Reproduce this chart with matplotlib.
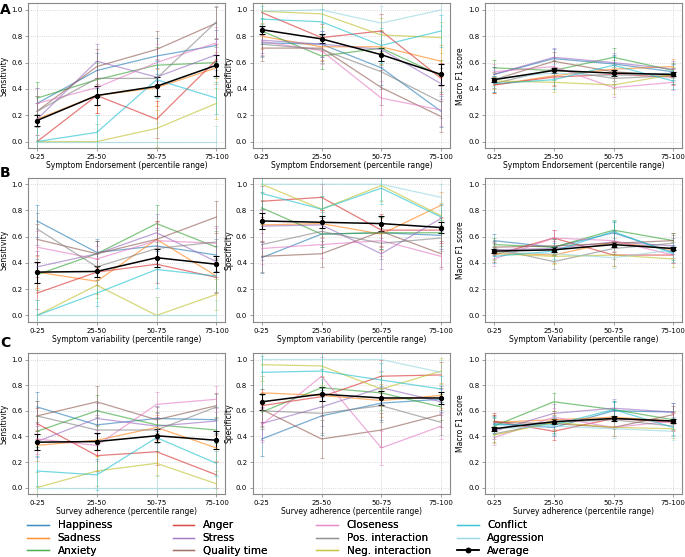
import numpy as np
import matplotlib.pyplot as plt
from matplotlib.lines import Line2D

# categories in legend order
labels = ['Happiness', 'Sadness', 'Anxiety', 'Anger', 'Stress', 'Quality time',
          'Closeness', 'Pos. interaction', 'Neg. interaction', 'Conflict', 'Aggression']
colors = ['tab:blue', 'tab:orange', 'tab:green', 'tab:red', 'tab:purple', 'tab:brown',
          'tab:pink', 'tab:gray', 'tab:olive', 'tab:cyan', '#8fd3de']
bins = ['0-25', '25-50', '50-75', '75-100']

# ---- row A: symptom endorsement ----
A_sens = [[0.29, 0.54, 0.65, 0.73], [0.17, 0.35, 0.41, 0.56], [0.33, 0.47, 0.58, 0.60],
          [0.00, 0.35, 0.17, 0.62], [0.17, 0.61, 0.49, 0.66], [0.23, 0.57, 0.70, 0.90],
          [0.29, 0.41, 0.60, 0.75], [0.23, 0.48, 0.48, 0.91], [0.00, 0.00, 0.10, 0.29],
          [0.00, 0.07, 0.47, 0.33], [0.00, 0.00, 0.00, 0.00]]
A_sens_avg = [0.16, 0.35, 0.42, 0.58]
A_sens_avg_err = [0.04, 0.07, 0.07, 0.08]
A_sens_err = [0.12, 0.13, 0.14, 0.12]

A_spec = [[0.75, 0.74, 0.56, 0.23], [0.80, 0.72, 0.72, 0.61], [0.84, 0.65, 0.71, 0.50],
          [0.98, 0.79, 0.84, 0.48], [0.77, 0.74, 0.70, 0.44], [0.71, 0.71, 0.41, 0.19],
          [0.76, 0.69, 0.33, 0.24], [0.74, 0.70, 0.53, 0.30], [0.99, 0.97, 0.81, 0.79],
          [0.93, 0.91, 0.73, 0.84], [0.99, 1.00, 0.90, 1.00]]
A_spec_avg = [0.85, 0.78, 0.66, 0.51]
A_spec_avg_err = [0.03, 0.035, 0.05, 0.08]
A_spec_err = [0.1, 0.1, 0.13, 0.12]

A_f1 = [[0.51, 0.63, 0.59, 0.53], [0.43, 0.50, 0.55, 0.57], [0.56, 0.54, 0.64, 0.54],
        [0.43, 0.49, 0.51, 0.49], [0.51, 0.64, 0.60, 0.55], [0.47, 0.61, 0.53, 0.50],
        [0.53, 0.57, 0.41, 0.45], [0.44, 0.55, 0.48, 0.50], [0.46, 0.45, 0.43, 0.51],
        [0.44, 0.47, 0.58, 0.46], [0.48, 0.52, 0.50, 0.52]]
A_f1_avg = [0.47, 0.54, 0.52, 0.51]
A_f1_avg_err = [0.015, 0.02, 0.02, 0.015]
A_f1_err = [0.06, 0.07, 0.07, 0.06]

# ---- row B: symptom variability ----
B_sens = [[0.72, 0.48, 0.53, 0.46], [0.33, 0.26, 0.58, 0.30], [0.31, 0.47, 0.70, 0.52],
          [0.17, 0.33, 0.39, 0.29], [0.37, 0.47, 0.63, 0.41], [0.58, 0.47, 0.58, 0.75],
          [0.52, 0.43, 0.57, 0.55], [0.66, 0.37, 0.51, 0.56], [0.00, 0.23, 0.00, 0.16],
          [0.00, 0.17, 0.35, 0.30], [0.00, 0.00, 0.00, 0.00]]
B_sens_avg = [0.33, 0.335, 0.44, 0.39]
B_sens_avg_err = [0.08, 0.045, 0.07, 0.06]
B_sens_err = [0.12, 0.1, 0.14, 0.12]

B_spec = [[0.44, 0.62, 0.63, 0.61], [0.69, 0.70, 0.62, 0.84], [0.82, 0.62, 0.63, 0.63],
          [0.87, 0.90, 0.65, 0.65], [0.68, 0.69, 0.47, 0.74], [0.45, 0.47, 0.64, 0.47],
          [0.51, 0.54, 0.57, 0.45], [0.54, 0.64, 0.55, 0.59], [1.00, 0.81, 0.99, 0.76],
          [0.93, 0.81, 0.97, 0.75], [1.00, 1.00, 1.00, 0.90]]
B_spec_avg = [0.72, 0.71, 0.70, 0.67]
B_spec_avg_err = [0.06, 0.045, 0.055, 0.04]
B_spec_err = [0.12, 0.1, 0.12, 0.1]

B_f1 = [[0.57, 0.52, 0.63, 0.48], [0.48, 0.46, 0.56, 0.50], [0.54, 0.52, 0.65, 0.57],
        [0.46, 0.59, 0.46, 0.46], [0.50, 0.51, 0.56, 0.53], [0.52, 0.53, 0.55, 0.57],
        [0.43, 0.59, 0.57, 0.46], [0.51, 0.41, 0.51, 0.55], [0.47, 0.45, 0.46, 0.43],
        [0.45, 0.49, 0.64, 0.47], [0.48, 0.47, 0.44, 0.50]]
B_f1_avg = [0.49, 0.50, 0.54, 0.51]
B_f1_avg_err = [0.015, 0.02, 0.02, 0.015]
B_f1_err = [0.05, 0.06, 0.08, 0.06]

# ---- row C: survey adherence ----
C_sens = [[0.63, 0.49, 0.54, 0.53], [0.33, 0.37, 0.47, 0.31], [0.44, 0.60, 0.49, 0.45],
          [0.50, 0.25, 0.28, 0.10], [0.36, 0.54, 0.48, 0.52], [0.56, 0.67, 0.53, 0.64],
          [0.38, 0.33, 0.65, 0.69], [0.56, 0.45, 0.45, 0.63], [0.00, 0.13, 0.19, 0.03],
          [0.13, 0.10, 0.39, 0.19], [0.00, 0.00, 0.00, 0.00]]
C_sens_avg = [0.355, 0.36, 0.405, 0.37]
C_sens_avg_err = [0.06, 0.065, 0.05, 0.07]
C_sens_err = [0.12, 0.12, 0.1, 0.1]

C_spec = [[0.38, 0.56, 0.66, 0.69], [0.74, 0.72, 0.68, 0.72], [0.59, 0.78, 0.74, 0.63],
          [0.64, 0.71, 0.87, 0.88], [0.50, 0.63, 0.78, 0.67], [0.61, 0.38, 0.45, 0.57],
          [0.49, 0.87, 0.31, 0.48], [0.60, 0.58, 0.64, 0.51], [0.96, 0.95, 0.77, 0.91],
          [0.90, 0.91, 0.84, 0.77], [1.00, 1.00, 1.00, 0.90]]
C_spec_avg = [0.67, 0.73, 0.70, 0.70]
C_spec_avg_err = [0.06, 0.055, 0.055, 0.045]
C_spec_err = [0.13, 0.15, 0.13, 0.1]

C_f1 = [[0.50, 0.47, 0.60, 0.59], [0.51, 0.53, 0.55, 0.52], [0.48, 0.67, 0.61, 0.53],
        [0.52, 0.44, 0.54, 0.51], [0.44, 0.58, 0.62, 0.59], [0.51, 0.50, 0.47, 0.57],
        [0.39, 0.55, 0.47, 0.52], [0.42, 0.51, 0.53, 0.48], [0.41, 0.51, 0.47, 0.46],
        [0.49, 0.49, 0.61, 0.47], [0.46, 0.48, 0.46, 0.44]]
C_f1_avg = [0.46, 0.515, 0.54, 0.52]
C_f1_avg_err = [0.015, 0.02, 0.02, 0.015]
C_f1_err = [0.06, 0.07, 0.07, 0.07]

xlabels = [['Symptom Endorsement (percentile range)'] * 3,
           ['Symptom variability (percentile range)', 'Symptom variability (percentile range)',
            'Symptom Variability (percentile range)'],
           ['Survey adherence (percentile range)'] * 3]
ylabels = ['Sensitivity', 'Specificity', 'Macro F1 score']

panels = [
    [(A_sens, A_sens_err, A_sens_avg, A_sens_avg_err), (A_spec, A_spec_err, A_spec_avg, A_spec_avg_err),
     (A_f1, A_f1_err, A_f1_avg, A_f1_avg_err)],
    [(B_sens, B_sens_err, B_sens_avg, B_sens_avg_err), (B_spec, B_spec_err, B_spec_avg, B_spec_avg_err),
     (B_f1, B_f1_err, B_f1_avg, B_f1_avg_err)],
    [(C_sens, C_sens_err, C_sens_avg, C_sens_avg_err), (C_spec, C_spec_err, C_spec_avg, C_spec_avg_err),
     (C_f1, C_f1_err, C_f1_avg, C_f1_avg_err)],
]

fig = plt.figure(figsize=(6.85, 5.57), dpi=100)

col_left = [0.041, 0.369, 0.708]
col_w = 0.288
row_bottom = [0.734, 0.422, 0.113]
row_h = [0.260, 0.259, 0.253]
letters = ['A', 'B', 'C']
letter_y = [0.982, 0.689, 0.384]

x = np.arange(len(bins))
for r in range(3):
    for c in range(3):
        ax = fig.add_axes([col_left[c], row_bottom[r], col_w, row_h[r]])
        vals, err, avg, avg_err = panels[r][c]
        for i, lab in enumerate(labels):
            ax.errorbar(x, vals[i], yerr=err, color=colors[i], lw=0.9, alpha=0.6,
                        elinewidth=0.5, capsize=1.2, capthick=0.5)
        ax.errorbar(x, avg, yerr=avg_err, color='black', lw=1.1, marker='o', ms=2.8,
                    elinewidth=0.8, capsize=2, capthick=0.8)
        ax.set_ylim(-0.05, 1.05)
        ax.set_yticks([0.0, 0.2, 0.4, 0.6, 0.8, 1.0])
        ax.set_xticks(x)
        ax.set_xticklabels(bins)
        ax.tick_params(labelsize=5, length=2, width=0.5, color='#777777', pad=2)
        ax.grid(True, linestyle=':', color='#cccccc', linewidth=0.6)
        for s in ax.spines.values():
            s.set_color('#888888')
            s.set_linewidth(0.8)
        ax.set_xlabel(xlabels[r][c], fontsize=5.5, labelpad=1)
        ax.set_ylabel(ylabels[c], fontsize=5.5, labelpad=2)
    fig.text(0.0, letter_y[r], letters[r], fontsize=10, fontweight='bold', va='center')

# legend: 4 columns of 3 entries
leg_labels = labels + ['Average']
leg_handles = [Line2D([], [], color=colors[i], lw=1.0, alpha=0.6) for i in range(len(labels))]
leg_handles.append(Line2D([], [], color='black', lw=1.1, marker='o', ms=3))
col_x = [0.04, 0.252, 0.462, 0.667]
for k in range(4):
    leg = fig.legend(leg_handles[3 * k:3 * k + 3], leg_labels[3 * k:3 * k + 3],
                     loc='upper left', bbox_to_anchor=(col_x[k], 0.066), frameon=False,
                     fontsize=7.5, handlelength=2.1, labelspacing=0.28,
                     handletextpad=0.8, borderpad=0.0, borderaxespad=0)
    fig.add_artist(leg)

plt.savefig('out.png', dpi=100)
